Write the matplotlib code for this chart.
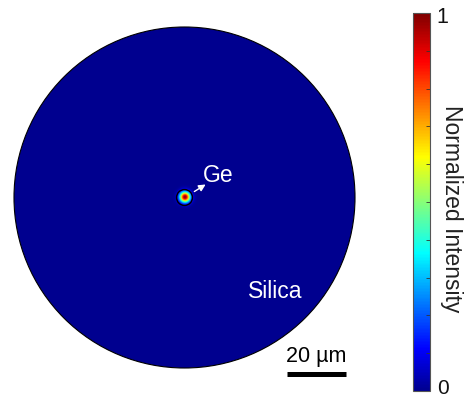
import matplotlib
matplotlib.use("Agg")
import matplotlib.pyplot as plt
import matplotlib.patches as mpatches
from matplotlib.colors import LinearSegmentedColormap
import numpy as np

plt.rcParams["font.family"] = ["Liberation Sans", "DejaVu Sans"]

# ─── DATA (µm) ────────────────────────────────────────────────────────────────
CLAD_RADIUS = 57.8
CORE_CENTER = (0.0, 0.0)
CORE_RADIUS = 2.7
MODE_SIGMA = 1.25
SCALE_LEN = 20
CBAR_MINOR = np.arange(0, 1.01, 0.1)

PX = 2.95              # pixels per µm in the output
CX, CY = 184.5, 197.5  # circle centre in pixels (from top-left)

# MATLAB-style jet(64) anchor colours
JET_POS = [0, 7 / 63, 23 / 63, 39 / 63, 55 / 63, 1]
JET_RGB = [(0, 0, 0.5625), (0, 0, 1), (0, 1, 1), (1, 1, 0), (1, 0, 0),
           (0.5, 0, 0)]
MJET = LinearSegmentedColormap.from_list("mjet", list(zip(JET_POS, JET_RGB)),
                                         N=256)


def field():
    n = 1400
    xs = np.linspace(-CLAD_RADIUS, CLAD_RADIUS, n)
    X, Y = np.meshgrid(xs, xs)
    r2 = (X - CORE_CENTER[0]) ** 2 + (Y - CORE_CENTER[1]) ** 2
    return np.exp(-r2 / (2 * MODE_SIGMA ** 2))


def px(x, y):
    return (x - CX) / PX, (CY - y) / PX


fig = plt.figure(figsize=(4.67, 4.0), dpi=100)
ax = fig.add_axes([0, 0, 380 / 467, 1])
ax.set_xlim(-CX / PX, (380 - CX) / PX)
ax.set_ylim(-(400 - CY) / PX, CY / PX)
ax.set_aspect("equal")
ax.axis("off")

im = ax.imshow(field(), cmap=MJET, vmin=0, vmax=1, origin="lower",
               extent=[-CLAD_RADIUS, CLAD_RADIUS, -CLAD_RADIUS, CLAD_RADIUS],
               interpolation="bilinear", zorder=1)
clip = mpatches.Circle((0, 0), CLAD_RADIUS, transform=ax.transData)
im.set_clip_path(clip)
ax.add_patch(mpatches.Circle((0, 0), CLAD_RADIUS, fill=False,
                             edgecolor="black", linewidth=0.8, zorder=3))
ax.add_patch(mpatches.Circle(CORE_CENTER, CORE_RADIUS, fill=False,
                             edgecolor="black", linewidth=1.0, zorder=3))

# arrow + labels
ax.annotate("", xy=px(208, 183), xytext=px(192, 193),
            arrowprops=dict(arrowstyle="-|>", color="white", lw=1.0,
                            mutation_scale=10), zorder=4)
ax.text(*px(203, 182), "Ge", color="white", fontsize=16.5,
        ha="left", va="baseline")
ax.text(*px(275, 298), "Silica", color="white", fontsize=16.5,
        ha="center", va="baseline")

# scale bar
sx0, sy = px(287, 373.5)
ax.plot([sx0, sx0 + SCALE_LEN], [sy, sy], color="black", lw=3.6,
        solid_capstyle="butt", clip_on=False, zorder=5)
ax.text(sx0 + SCALE_LEN / 2, px(0, 362)[1], "20 µm", fontsize=15.5,
        ha="center", va="baseline", color="black")

# colorbar
cax = fig.add_axes([413 / 467, 9 / 400, 17 / 467, 378 / 400])
cb = fig.colorbar(im, cax=cax, ticks=[])
cb.outline.set_edgecolor("#555555")
cb.outline.set_linewidth(0.8)
cax.set_yticks(CBAR_MINOR, minor=True)
cax.tick_params(which="minor", direction="in", length=3, width=0.6,
                color="#333333")
fig.text(436 / 467, 1 - 23 / 400, "1", fontsize=15.5, ha="left",
         va="baseline", color="#111111")
fig.text(437 / 467, 1 - 394 / 400, "0", fontsize=15, ha="left",
         va="baseline", color="#111111")
fig.text(452 / 467, 1 - 209 / 400, "Normalized Intensity", rotation=270,
         fontsize=16.5, ha="center", va="center", color="#222222")

plt.savefig("out.png", dpi=100)
plt.close()
